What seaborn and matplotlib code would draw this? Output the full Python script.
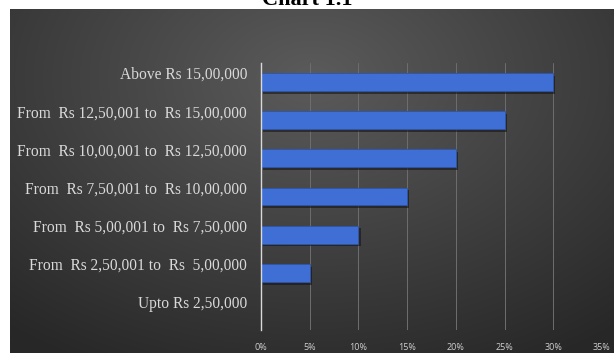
import numpy as np
import pandas as pd
import matplotlib
matplotlib.use("Agg")
import matplotlib.pyplot as plt
import matplotlib.transforms as mtransforms
import matplotlib.patheffects as pe
import seaborn as sns

# Income brackets and share of respondents (%)
categories = [
    "Above Rs 15,00,000",
    "From  Rs 12,50,001 to  Rs 15,00,000",
    "From  Rs 10,00,001 to  Rs 12,50,000",
    "From  Rs 7,50,001 to  Rs 10,00,000",
    "From  Rs 5,00,001 to  Rs 7,50,000",
    "From  Rs 2,50,001 to  Rs  5,00,000",
    "Upto Rs 2,50,000",
]
shares = [30, 25, 20, 15, 10, 5, 0]
x_ticks = [0, 5, 10, 15, 20, 25, 30, 35]
x_tick_labels = ["0%", "5%", "10%", "15%", "20%", "25%", "30%", "35%"]
title = "Chart 1.1"

df = pd.DataFrame({"bracket": categories, "share": shares})

sns.set_theme(style="white")
plt.rcParams["font.family"] = ["Liberation Serif", "DejaVu Serif"]

W, H = 614, 353
fig = plt.figure(figsize=(W / 100, H / 100), dpi=100)
fig.patch.set_facecolor("white")

# dark panel with a soft radial gradient
bg = fig.add_axes([10 / W, 0, (W - 10) / W, (H - 9) / H], zorder=-1)
gy, gx = np.mgrid[0:1:300j, 0:1:500j]
r = np.sqrt(((gx - 0.5) / 0.8) ** 2 + ((gy - 0.2) / 0.95) ** 2)
r = np.clip(r, 0, 1)
light = np.array([0x5b, 0x5b, 0x5b]) / 255
dark = np.array([0x27, 0x27, 0x27]) / 255
img = light[None, None, :] * (1 - r[..., None]) + dark[None, None, :] * r[..., None]
bg.imshow(img, aspect="auto", extent=[0, 1, 0, 1], origin="upper")
bg.set_axis_off()

ax = fig.add_axes([261 / W, (H - 330) / H, (602 - 261) / W, (330 - 63) / H])
ax.set_facecolor("none")

sns.barplot(data=df, x="share", y="bracket", orient="h", color="#3f6fd4",
            width=0.47, ax=ax, saturation=1, edgecolor="#2e56a8", linewidth=0.6)
for p in ax.patches:
    p.set_path_effects([pe.SimplePatchShadow(offset=(1.5, -2), shadow_rgbFace="#151515", alpha=0.6),
                        pe.Normal()])

ax.set_xlim(0, 35)
ax.set_ylim(6.5, -0.5)
ax.set_xticks(x_ticks)
ax.set_xticklabels(x_tick_labels)
ax.set_xlabel("")
ax.set_ylabel("")

ax.grid(axis="x", color="#6e6e6e", linewidth=0.7)
ax.set_axisbelow(True)
for s in ["top", "right", "bottom"]:
    ax.spines[s].set_visible(False)
ax.spines["left"].set_color("#d9d9d9")
ax.spines["left"].set_linewidth(1.0)

ax.tick_params(axis="both", length=0)
ax.tick_params(axis="y", pad=10, labelsize=11.2, labelcolor="#d9d9d9")
ax.tick_params(axis="x", pad=9, labelsize=6.5, labelcolor="#cfcfcf")
for lbl in ax.get_xticklabels():
    lbl.set_fontfamily(["Open Sans", "DejaVu Sans"])

# bracket labels sit a little above their bars
shift = mtransforms.ScaledTranslation(0, 0.09, fig.dpi_scale_trans)
for lbl in ax.get_yticklabels():
    lbl.set_transform(lbl.get_transform() + shift)

fig.text(0.5, 1 - 5 / H, title, ha="center", va="baseline",
         fontsize=16, fontweight="bold", color="black")

fig.savefig("out.png", dpi=100)
